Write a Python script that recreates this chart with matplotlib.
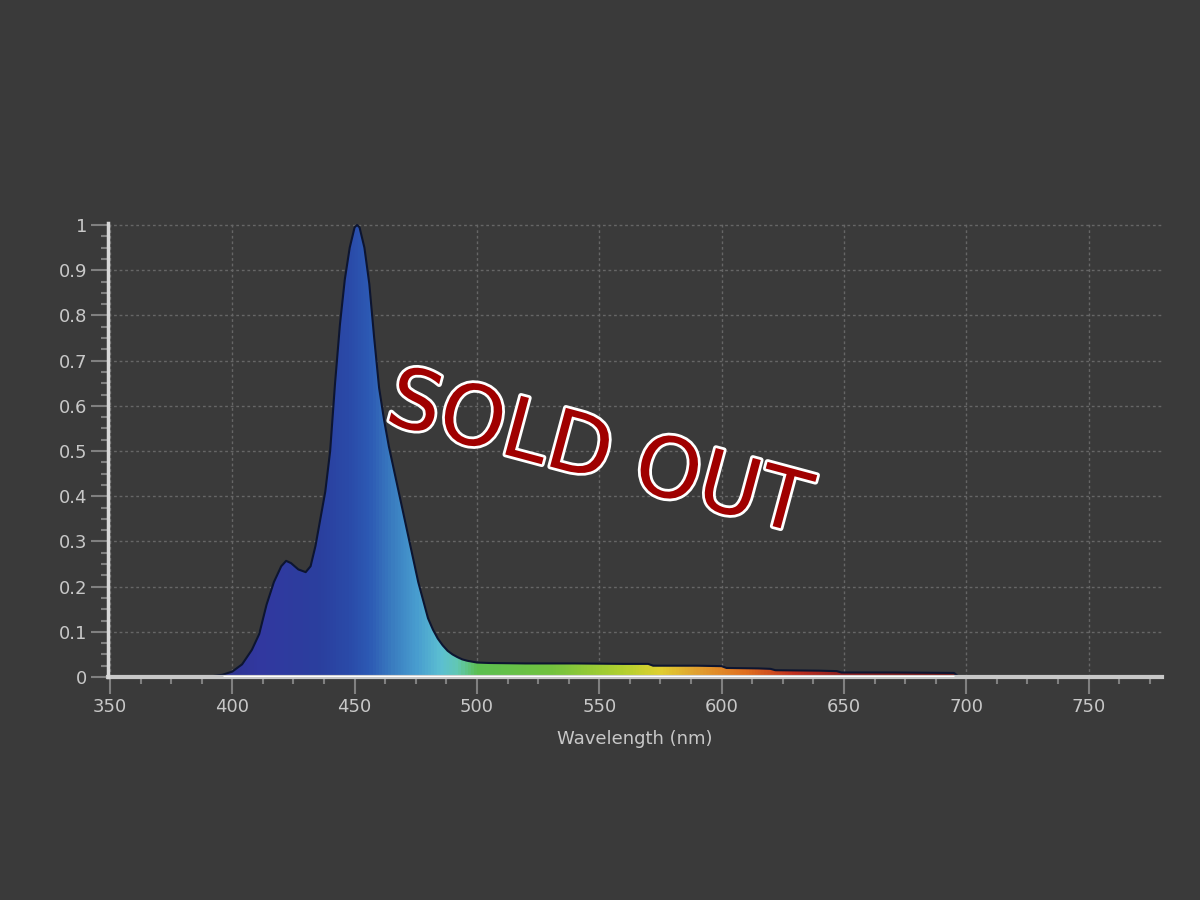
import numpy as np
import matplotlib
matplotlib.use("Agg")
import matplotlib.pyplot as plt
from matplotlib.colors import LinearSegmentedColormap, Normalize
from matplotlib.patches import Polygon
from matplotlib.ticker import MultipleLocator, FuncFormatter
import matplotlib.patheffects as pe

# espectro (intensidad relativa)
wavelength = [378, 385, 392, 396, 400, 404, 408, 411, 414, 417, 420, 422, 424, 427,
              430, 432, 434, 436, 438, 440, 442, 444, 446, 448, 450, 451, 452, 454,
              456, 458, 460, 462, 464, 466, 468, 470, 472, 474, 476, 478, 480, 482,
              484, 486, 488, 490, 492, 494, 496, 498, 500, 505, 520, 540, 560, 570,
              572, 590, 600, 602, 615, 620, 622, 640, 647, 649, 670, 695, 697]
intensity = [0.0, 0.001, 0.002, 0.005, 0.012, 0.028, 0.06, 0.095, 0.16, 0.21, 0.245,
             0.257, 0.252, 0.238, 0.232, 0.245, 0.29, 0.35, 0.41, 0.5, 0.65, 0.78,
             0.88, 0.95, 0.995, 1.0, 0.995, 0.95, 0.87, 0.75, 0.64, 0.57, 0.51, 0.46,
             0.41, 0.36, 0.31, 0.26, 0.21, 0.17, 0.13, 0.105, 0.085, 0.07, 0.058,
             0.05, 0.044, 0.039, 0.036, 0.034, 0.032, 0.031, 0.03, 0.03, 0.029,
             0.029, 0.025, 0.025, 0.024, 0.02, 0.019, 0.018, 0.015, 0.014, 0.013,
             0.01, 0.01, 0.009, 0.0]

x_ticks = [350, 400, 450, 500, 550, 600, 650, 700, 750]
y_ticks = [0, 0.1, 0.2, 0.3, 0.4, 0.5, 0.6, 0.7, 0.8, 0.9, 1]
x_label = "Wavelength (nm)"
stamp = "SOLD OUT"

# colores del espectro por longitud de onda
color_stops = [(380, "#2a2f7a"), (410, "#3238a0"), (435, "#2b3f9e"), (447, "#2a4aa8"),
               (456, "#2d5ab4"), (465, "#3a7cc0"), (475, "#489ccf"), (485, "#5cbfd2"),
               (492, "#62c8b4"), (500, "#5cbf52"), (530, "#72c240"), (560, "#b2d030"),
               (575, "#e0d030"), (590, "#e0a030"), (610, "#e07020"), (630, "#c03020"),
               (650, "#902020"), (700, "#701818")]

bg = "#3a3a3a"
wl = np.array(wavelength, dtype=float)
inten = np.array(intensity)

lo, hi = color_stops[0][0], color_stops[-1][0]
spec_cmap = LinearSegmentedColormap.from_list(
    "spec", [((w - lo) / (hi - lo), c) for w, c in color_stops])

fig = plt.figure(figsize=(12, 9), dpi=100, facecolor=bg)
ax = fig.add_axes([108 / 1200, 1 - 677 / 900, (1162 - 108) / 1200, (677 - 223) / 900])
ax.set_facecolor(bg)

grad = np.linspace(wl.min(), wl.max(), 800)[None, :]
im = ax.imshow(grad, extent=[wl.min(), wl.max(), 0, inten.max()], aspect="auto",
               cmap=spec_cmap, norm=Normalize(lo, hi), origin="lower", zorder=2)
verts = np.column_stack([np.r_[wl, wl[-1], wl[0]], np.r_[inten, 0, 0]])
patch = Polygon(verts, closed=True, facecolor="none", edgecolor="none",
                transform=ax.transData)
ax.add_patch(patch)
im.set_clip_path(patch)

ax.plot(wl, inten, color="#0d1530", lw=1.5, zorder=3)
nz = inten > 0.004
ax.plot(wl[nz], np.zeros(nz.sum()), color="white", lw=2.5, zorder=4, solid_capstyle="butt")

ax.set_xlim(349.2, 780)
ax.set_ylim(0, 1.0045)

ax.set_xticks(x_ticks)
ax.set_yticks(y_ticks)
ax.xaxis.set_minor_locator(MultipleLocator(12.5))
ax.yaxis.set_minor_locator(MultipleLocator(0.025))
ax.yaxis.set_major_formatter(FuncFormatter(lambda v, p: "%g" % v))

ax.tick_params(which="major", length=12, width=1.5, color="#808080",
               labelcolor="#c8c8c8", labelsize=13, pad=3)
ax.tick_params(which="minor", length=5, width=1.5, color="#808080")

ax.grid(True, which="major", color="#666666", linestyle=(0, (2, 2)), lw=1)
ax.set_axisbelow(True)

for s in ["top", "right"]:
    ax.spines[s].set_visible(False)
ax.spines["left"].set_color("#d8d8d8")
ax.spines["left"].set_linewidth(2.5)
ax.spines["bottom"].set_color("#c8c8c8")
ax.spines["bottom"].set_linewidth(3)
ax.spines["left"].set_zorder(5)
ax.spines["bottom"].set_zorder(3.5)

ax.set_xlabel(x_label, color="#c8c8c8", fontsize=13, labelpad=10)

fig.text(598 / 1200, 1 - 455 / 900, stamp, fontsize=60, color="#a00000",
         rotation=-15, ha="center", va="center", rotation_mode="anchor",
         path_effects=[pe.withStroke(linewidth=4, foreground="white")])

fig.savefig("out.png", dpi=100, facecolor=fig.get_facecolor())
